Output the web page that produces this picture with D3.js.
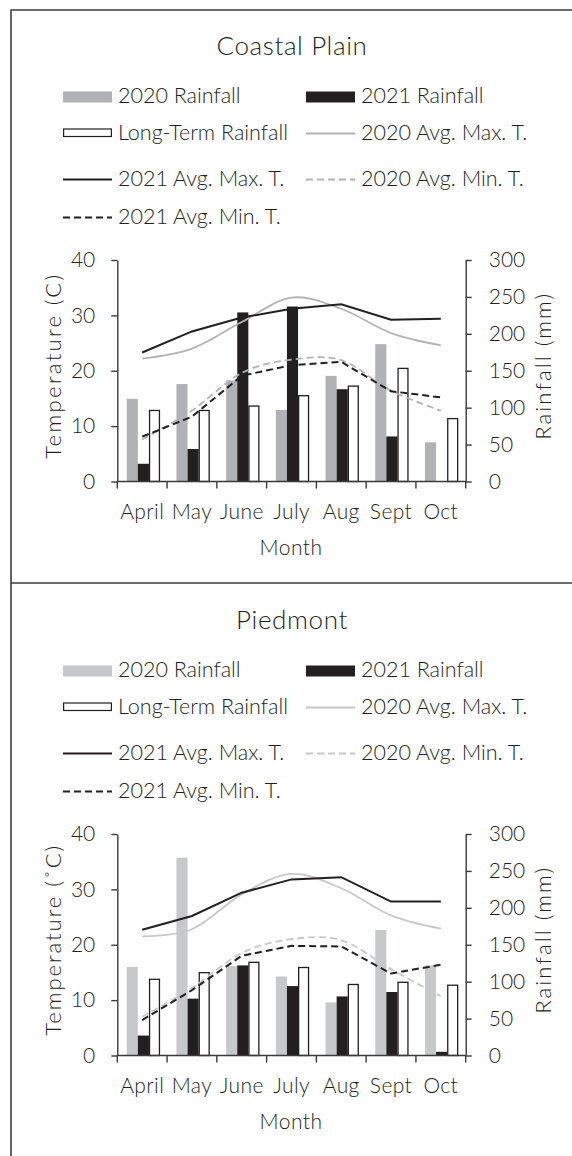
<!DOCTYPE html>
<html>
<head>
<meta charset="utf-8">
<script src="https://cdn.jsdelivr.net/npm/d3@7/dist/d3.min.js"></script>
<style>
  html, body { margin: 0; padding: 0; background: #fff; }
  svg text { font-family: Lato, "Open Sans", sans-serif; fill: #231f20; }
</style>
</head>
<body>
<svg id="chart" width="572" height="1156"></svg>
<script>
// ---------- data ----------
const months = ["April", "May", "June", "July", "Aug", "Sept", "Oct"];
const legendLabels = ["2020 Rainfall", "2021 Rainfall", "Long-Term Rainfall", "2020 Avg. Max. T.",
                      "2021 Avg. Max. T.", "2020 Avg. Min. T.", "2021 Avg. Min. T."];
const tempTicks = [0, 10, 20, 30, 40];
const rainTicks = [0, 50, 100, 150, 200, 250, 300];

// Coastal Plain
const cpRain2020 = [112, 132, 137, 97, 143, 186, 53];
const cpRain2021 = [24, 44, 229, 237, 125, 61, null];
const cpRainLT   = [97, 97, 103, 117, 130, 154, 86];
const cpMax2020  = [22.2, 24.0, 28.8, 33.2, 31.2, 26.8, 24.6];
const cpMax2021  = [23.3, 27.1, 29.6, 31.2, 32.0, 29.2, 29.4];
const cpMin2020  = [7.6, 12.8, 19.6, 22.0, 21.9, 16.4, 12.8];
const cpMin2021  = [8.1, 11.7, 19.1, 21.0, 21.6, 16.3, 15.2];

// Piedmont
const pdRain2020 = [120, 268, 121, 107, 72, 170, 122];
const pdRain2021 = [27, 77, 122, 94, 80, 86, 5];
const pdRainLT   = [104, 113, 127, 120, 97, 100, 96];
const pdMax2020  = [21.5, 22.8, 29.1, 32.8, 30.2, 25.3, 22.9];
const pdMax2021  = [22.7, 25.2, 29.4, 31.8, 32.2, 27.8, 27.8];
const pdMin2020  = [7.0, 12.2, 18.5, 21.0, 20.8, 15.6, 10.7];
const pdMin2021  = [6.4, 11.8, 18.0, 19.8, 19.7, 14.8, 16.4];

const panels = [
  { title: "Coastal Plain", yTitle: "Temperature (C)", yTitleLen: 184, offset: 0,
    rain: [cpRain2020, cpRain2021, cpRainLT], temps: [cpMax2020, cpMax2021, cpMin2020, cpMin2021],
    gray: "#b1b2b5", grayLine: "#b3b3b3" },
  { title: "Piedmont", yTitle: "Temperature (\u02DAC)", yTitleLen: 190, offset: 574,
    rain: [pdRain2020, pdRain2021, pdRainLT], temps: [pdMax2020, pdMax2021, pdMin2020, pdMin2021],
    gray: "#c7c8ca", grayLine: "#c8c8c8" }
];

// ---------- drawing ----------
const svg = d3.select("#chart");
const ink = "#231f20";
svg.append("rect").attr("width", 572).attr("height", 1156).attr("fill", "#fff");

// frame
svg.append("path").attr("d", "M11,1156V10H572").attr("fill", "none").attr("stroke", "#3c3c3c").attr("stroke-width", 1.6);
svg.append("path").attr("d", "M11,583H572").attr("fill", "none").attr("stroke", "#3c3c3c").attr("stroke-width", 1.6);

const L = 117.3, R = 465.7, T = 260, B = 481.5;

panels.forEach(p => {
  const g = svg.append("g").attr("transform", `translate(0,${p.offset})`);

  // title
  g.append("text").attr("x", 292).attr("y", 55).attr("text-anchor", "middle")
    .attr("font-size", 26).attr("font-weight", 300).attr("letter-spacing", 0.6).text(p.title);

  // legend
  const lg = g.append("g").attr("font-size", 21.5).attr("font-weight", 300);
  const rows = [103, 140, 186, 224];
  const colSym = [63, 306], colTxt = [118, 361], symW = 49;
  const items = [
    { label: legendLabels[0], type: "rect", fill: p.gray },
    { label: legendLabels[1], type: "rect", fill: ink },
    { label: legendLabels[2], type: "rectw" },
    { label: legendLabels[3], type: "line", stroke: p.grayLine, dash: null },
    { label: legendLabels[4], type: "line", stroke: ink, dash: null },
    { label: legendLabels[5], type: "line", stroke: p.grayLine, dash: "7,4" },
    { label: legendLabels[6], type: "line", stroke: ink, dash: "7,4" }
  ];
  items.forEach((it, i) => {
    const r = Math.floor(i / 2), c = i % 2;
    const yb = rows[r];
    const xs = colSym[c];
    if (it.type === "rect") {
      lg.append("rect").attr("x", xs).attr("y", yb - 11.5).attr("width", symW).attr("height", 11).attr("fill", it.fill);
    } else if (it.type === "rectw") {
      lg.append("rect").attr("x", xs + 0.6).attr("y", yb - 11).attr("width", symW - 1.2).attr("height", 7.5)
        .attr("fill", "#fff").attr("stroke", ink).attr("stroke-width", 1.2);
    } else {
      lg.append("line").attr("x1", xs).attr("x2", xs + symW).attr("y1", yb - 6.5).attr("y2", yb - 6.5)
        .attr("stroke", it.stroke).attr("stroke-width", it.stroke === ink ? 2 : 1.8)
        .attr("stroke-dasharray", it.dash);
    }
    lg.append("text").attr("x", colTxt[c]).attr("y", yb).text(it.label);
  });

  // scales
  const xAxisScale = d3.scaleBand().domain(months).range([L, R]).padding(0);
  const x0 = d3.scaleBand().domain(months).range([L, R]).paddingInner(0.33).paddingOuter(0.17);
  const x1 = d3.scaleBand().domain([0, 1, 2]).range([0, x0.bandwidth()]);
  const yT = d3.scaleLinear().domain([0, 40]).range([B, T]);
  const yR = d3.scaleLinear().domain([0, 300]).range([B, T]);

  const plot = g.append("g");

  // bars
  const barFills = [p.gray, ink, "#fff"];
  p.rain.forEach((series, si) => {
    const inset = si === 2 ? 0.6 : 0;
    plot.append("g").selectAll("rect")
      .data(series.map((v, i) => ({ m: months[i], v })).filter(d => d.v != null))
      .join("rect")
      .attr("x", d => x0(d.m) + 1 + x1(si) + inset)
      .attr("y", d => yR(d.v) + inset)
      .attr("width", x1.bandwidth() - 2 * inset)
      .attr("height", d => Math.max(0, B - yR(d.v) - inset))
      .attr("fill", barFills[si])
      .attr("stroke", si === 2 ? ink : "none")
      .attr("stroke-width", 1.3);
  });

  // temperature lines
  const cx = m => xAxisScale(m) + xAxisScale.bandwidth() / 2;
  const lineStyles = [
    { stroke: p.grayLine, dash: null, curve: d3.curveCardinal.tension(0), w: 1.8 },
    { stroke: ink, dash: null, curve: d3.curveLinear, w: 2 },
    { stroke: p.grayLine, dash: "7,4", curve: d3.curveCardinal.tension(0), w: 1.8 },
    { stroke: ink, dash: "7,4", curve: d3.curveLinear, w: 2 }
  ];
  p.temps.forEach((series, si) => {
    const st = lineStyles[si];
    const line = d3.line().x((d, i) => cx(months[i])).y(d => yT(d)).curve(st.curve);
    plot.append("path").datum(series).attr("d", line).attr("fill", "none")
      .attr("stroke", st.stroke).attr("stroke-width", st.w).attr("stroke-dasharray", st.dash);
  });

  // axes
  const axStyle = sel => {
    sel.selectAll("path, line").attr("stroke", "#3a3a3a").attr("stroke-width", 1.4);
    sel.selectAll("text").attr("font-size", 21).attr("font-weight", 300).attr("fill", ink)
      .attr("font-family", "Lato, sans-serif");
  };
  g.append("g").attr("transform", `translate(${L},0)`)
    .call(d3.axisLeft(yT).tickValues(tempTicks).tickSize(6).tickSizeOuter(0).tickPadding(16))
    .call(axStyle);
  g.append("g").attr("transform", `translate(${R},0)`)
    .call(d3.axisRight(yR).tickValues(rainTicks).tickSize(6).tickSizeOuter(0).tickPadding(17))
    .call(axStyle);
  const xg = g.append("g").attr("transform", `translate(0,${B})`)
    .call(d3.axisBottom(xAxisScale).tickSize(0).tickSizeOuter(0).tickPadding(23))
    .call(axStyle);
  xg.selectAll(".tick text").attr("letter-spacing", 0.4);
  xg.select(".domain").remove();
  xg.append("line").attr("x1", L).attr("x2", R).attr("stroke", "#3a3a3a").attr("stroke-width", 1.4);
  const bounds = months.map(m => xAxisScale(m)).concat([xAxisScale.range()[1]]);
  xg.selectAll("line.bnd").data(bounds).join("line").attr("class", "bnd")
    .attr("x1", d => d).attr("x2", d => d).attr("y1", 0).attr("y2", 7)
    .attr("stroke", "#3a3a3a").attr("stroke-width", 1.4);

  // axis titles
  g.append("text").attr("x", 291).attr("y", 555).attr("text-anchor", "middle")
    .attr("font-size", 21).attr("font-weight", 300).attr("letter-spacing", 0.5).text("Month");
  g.append("text").attr("transform", `translate(61,${(T + B) / 2 - 4}) rotate(-90)`).attr("text-anchor", "middle")
    .attr("font-size", 22).attr("font-weight", 300)
    .attr("textLength", p.yTitleLen).attr("lengthAdjust", "spacing").text(p.yTitle);
  g.append("text").attr("transform", `translate(551,${(T + B) / 2 - 4}) rotate(-90)`).attr("text-anchor", "middle")
    .attr("font-size", 22).attr("font-weight", 300)
    .attr("textLength", 146).attr("lengthAdjust", "spacing").text("Rainfall (mm)");
});
</script>
</body>
</html>
